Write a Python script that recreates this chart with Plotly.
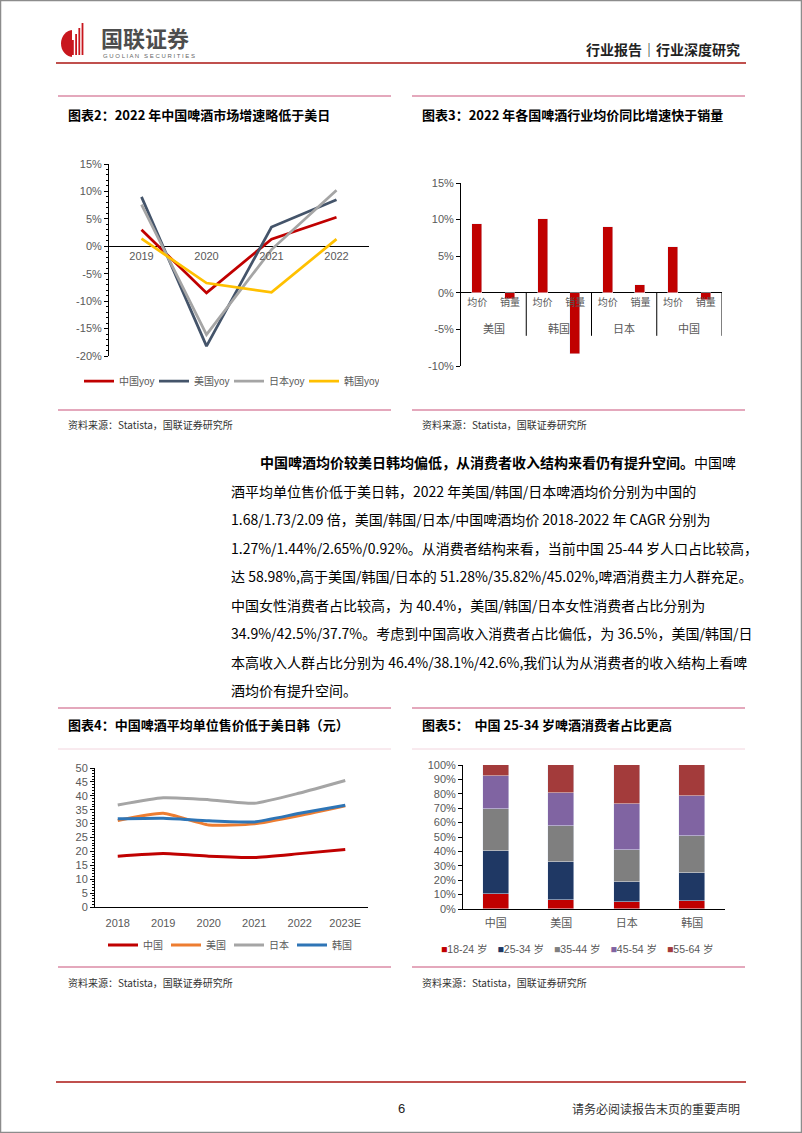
import plotly.graph_objects as go

W, H = 802, 1133

# ---------------- data ----------------
# Chart 2: beer market yoy growth
years2 = ['2019', '2020', '2021', '2022']
china_yoy = [3.0, -8.5, 1.3, 5.3]
usa_yoy = [9.0, -18.2, 3.5, 8.5]
japan_yoy = [7.6, -16.1, -0.6, 10.2]
korea_yoy = [1.4, -6.7, -8.4, 1.3]
yoy_names = ['中国yoy', '美国yoy', '日本yoy', '韩国yoy']
pct_ticks2 = [-20, -15, -10, -5, 0, 5, 10, 15]
pct_labels2 = ['-20%', '-15%', '-10%', '-5%', '0%', '5%', '10%', '15%']

# Chart 3: 2022 price vs volume yoy
countries3 = ['美国', '韩国', '日本', '中国']
metrics3 = ['均价', '销量']
price_yoy3 = [9.4, 10.1, 9.0, 6.3]
volume_yoy3 = [-0.8, -8.3, 1.0, -1.0]
pct_ticks3 = [-10, -5, 0, 5, 10, 15]
pct_labels3 = ['-10%', '-5%', '0%', '5%', '10%', '15%']

# Chart 4: average unit price (yuan)
years4 = ['2018', '2019', '2020', '2021', '2022', '2023E']
price_cn = [18.3, 19.2, 18.3, 17.8, 19.2, 20.7]
price_us = [31.1, 33.7, 29.5, 29.9, 32.9, 36.4]
price_jp = [36.7, 39.3, 38.6, 37.3, 41.0, 45.5]
price_kr = [31.7, 31.9, 31.0, 30.6, 33.7, 36.6]
names4 = ['中国', '美国', '日本', '韩国']

# Chart 5: consumer age structure (%)
countries5 = ['中国', '美国', '日本', '韩国']
age_groups = ['18-24 岁', '25-34 岁', '35-44 岁', '45-54 岁', '55-64 岁']
share_18_24 = [10.4, 6.3, 5.1, 5.8]
share_25_34 = [29.9, 26.0, 13.4, 19.0]
share_35_44 = [29.1, 25.3, 22.4, 26.0]
share_45_54 = [23.0, 22.7, 31.8, 28.0]
share_55_64 = [7.6, 19.7, 27.3, 21.2]
pct_ticks5 = [0, 10, 20, 30, 40, 50, 60, 70, 80, 90, 100]
pct_labels5 = [f'{v}%' for v in pct_ticks5]

# ---------------- styles ----------------
CN = 'Noto Sans CJK SC'
NUM = 'Arial, Liberation Sans, Noto Sans CJK SC'
GREY = '#595959'
yoy_colors = ['#C00000', '#44546A', '#A5A5A5', '#FFC000']
colors4 = ['#C00000', '#ED7D31', '#A5A5A5', '#2E75B6']
colors5 = ['#C00000', '#1F3864', '#7F7F7F', '#8064A2', '#A33B3B']
PINK = '#C9537A'
RED_LINE = '#C0504D'


def xp(p):
    return p / W


def yp(p):
    return 1 - p / H


def zero_pos(dom, rng):
    return dom[0] + (0 - rng[0]) / (rng[1] - rng[0]) * (dom[1] - dom[0])


fig = go.Figure()

# Chart 2 traces
for vals, name, col in zip([china_yoy, usa_yoy, japan_yoy, korea_yoy], yoy_names, yoy_colors):
    fig.add_trace(go.Scatter(x=years2, y=vals, name=name, mode='lines',
                             line=dict(color=col, width=2.75),
                             xaxis='x', yaxis='y', legend='legend'))

# Chart 3 traces
x_price = [2 * i for i in range(len(countries3))]
x_vol = [2 * i + 1 for i in range(len(countries3))]
fig.add_trace(go.Bar(x=x_price, y=price_yoy3, width=0.31, marker_color='#C00000',
                     xaxis='x2', yaxis='y2', showlegend=False, name='均价'))
fig.add_trace(go.Bar(x=x_vol, y=volume_yoy3, width=0.31, marker_color='#C00000',
                     xaxis='x2', yaxis='y2', showlegend=False, name='销量'))

# Chart 4 traces
for vals, name, col in zip([price_cn, price_us, price_jp, price_kr], names4, colors4):
    fig.add_trace(go.Scatter(x=years4, y=vals, name=name, mode='lines',
                             line=dict(color=col, width=3, shape='spline', smoothing=0.5),
                             xaxis='x3', yaxis='y3', legend='legend2'))

# Chart 5 traces (bars) + compact legend entries with a coloured square in the label
n_age = len(age_groups)
for k, (vals, name, col) in enumerate(zip([share_18_24, share_25_34, share_35_44, share_45_54,
                                           share_55_64], age_groups, colors5)):
    fig.add_trace(go.Bar(x=countries5, y=vals, name=name, marker_color=col, width=0.39,
                         xaxis='x4', yaxis='y4', showlegend=False, legendgroup=name))
    fig.add_trace(go.Scatter(x=[None], y=[None], mode='lines', line=dict(width=0, color=col),
                             name=f'<span style="color:{col}">■</span>{name}',
                             xaxis='x4', yaxis='y4', legend='legend3', legendgroup=name,
                             legendwidth=(50 if k == n_age - 1 else 26.5),
                             hoverinfo='skip'))

# ---------------- axes ----------------
tickfont = dict(family=NUM, size=11, color=GREY)

y2_dom, y2_rng = [yp(356), yp(164)], [-20, 15]
y3_dom, y3_rng = [yp(366), yp(183)], [-10, 15]
y4_dom, y4_rng = [yp(907), yp(768)], [0, 50]
y5_dom, y5_rng = [yp(909), yp(765)], [0, 100]

layout = dict(
    width=W, height=H, margin=dict(l=0, r=0, t=0, b=0, pad=0, autoexpand=False),
    paper_bgcolor='white', plot_bgcolor='rgba(0,0,0,0)',
    barmode='stack', bargap=0,
    font=dict(family=CN, color='#000'),
    xaxis=dict(domain=[xp(109), xp(369)], type='category', range=[-0.5, 3.5],
               anchor='free', position=zero_pos(y2_dom, y2_rng),
               showline=False, ticks='', showgrid=False, zeroline=False,
               tickfont=tickfont, ticklabelstandoff=2),
    yaxis=dict(domain=y2_dom, range=y2_rng, anchor='x', tickmode='array',
               tickvals=pct_ticks2, ticktext=pct_labels2,
               ticks='outside', ticklen=4, tickcolor='black',
               minor=dict(dtick=1, tick0=0, ticks='outside', ticklen=2, tickcolor='black'),
               showline=True, linecolor='black', linewidth=1, showgrid=False,
               zeroline=True, zerolinecolor='black', zerolinewidth=1, tickfont=tickfont),
    xaxis2=dict(domain=[xp(461), xp(722)], range=[-0.5, 7.5],
                anchor='free', position=zero_pos(y3_dom, y3_rng),
                tickmode='array', tickvals=x_price + x_vol,
                ticktext=[metrics3[0]] * len(x_price) + [metrics3[1]] * len(x_vol),
                showline=False, ticks='', showgrid=False, zeroline=False,
                tickfont=dict(family=CN, size=10, color=GREY), ticklabelstandoff=2),
    yaxis2=dict(domain=y3_dom, range=y3_rng, anchor='x2', tickmode='array',
                tickvals=pct_ticks3, ticktext=pct_labels3,
                ticks='outside', ticklen=4, tickcolor='black',
                showline=True, linecolor='black', linewidth=1, showgrid=False,
                zeroline=True, zerolinecolor='black', zerolinewidth=1, tickfont=tickfont),
    xaxis3=dict(domain=[xp(95), xp(368)], type='category', range=[-0.5, 5.5], anchor='y3',
                showline=True, linecolor='black', linewidth=1, ticks='', showgrid=False,
                zeroline=False, tickfont=tickfont, ticklabelstandoff=6),
    yaxis3=dict(domain=y4_dom, range=y4_rng, anchor='x3', dtick=5, tick0=0,
                ticks='outside', ticklen=4, tickcolor='black',
                minor=dict(dtick=1, tick0=0, ticks='outside', ticklen=2, tickcolor='black'),
                showline=True, linecolor='black', linewidth=1, showgrid=False,
                zeroline=False, tickfont=tickfont),
    xaxis4=dict(domain=[xp(463), xp(725)], type='category', range=[-0.5, 3.5], anchor='y4',
                showline=True, linecolor='black', linewidth=1, ticks='', showgrid=False,
                zeroline=False, tickfont=dict(family=CN, size=11, color=GREY),
                ticklabelstandoff=4),
    yaxis4=dict(domain=y5_dom, range=y5_rng, anchor='x4', tickmode='array',
                tickvals=pct_ticks5, ticktext=pct_labels5,
                ticks='outside', ticklen=4, tickcolor='black',
                showline=True, linecolor='black', linewidth=1, showgrid=False,
                zeroline=False, tickfont=tickfont),
    legend=dict(orientation='h', x=xp(79), y=yp(381), xanchor='left', yanchor='middle',
                font=dict(family=NUM, size=10, color=GREY), bgcolor='rgba(0,0,0,0)',
                itemwidth=30, tracegroupgap=0, traceorder='normal', entrywidth=30),
    legend2=dict(orientation='h', x=xp(103), y=yp(945), xanchor='left', yanchor='middle',
                 font=dict(family=CN, size=10, color=GREY), bgcolor='rgba(0,0,0,0)',
                 itemwidth=30, tracegroupgap=0, traceorder='normal', entrywidth=18),
    legend3=dict(orientation='h', x=xp(416), y=yp(949), xanchor='left', yanchor='middle',
                 font=dict(family=NUM, size=10.5, color=GREY), bgcolor='rgba(0,0,0,0)',
                 itemwidth=30, tracegroupgap=0, indentation=-15, traceorder='normal',
                 itemclick=False, itemdoubleclick=False),
)
fig.update_layout(**layout)

# ---------------- annotations ----------------
ann = []


def text(x, y, s, size=12, color='#000', anchor='left', family=CN, **kw):
    ann.append(dict(x=xp(x), y=yp(y), xref='paper', yref='paper', text=s, showarrow=False,
                    xanchor=anchor, yanchor='middle', font=dict(family=family, size=size, color=color), **kw))


# header
text(99, 37, '<b>国联证券</b>', size=22, color='#4D4D4D')
text(101, 56, 'G U O L I A N   S E C U R I T I E S', size=6, color='#666', family=NUM)
text(742, 49, '<b>行业报告｜行业深度研究</b>', size=14, color='#222', anchor='right')

# chart titles
text(66, 114, '<b>图表2：2022 年中国啤酒市场增速略低于美日</b>', size=13)
text(420, 114, '<b>图表3：2022 年各国啤酒行业均价同比增速快于销量</b>', size=13)
text(66, 724, '<b>图表4：中国啤酒平均单位售价低于美日韩（元）</b>', size=13)
text(420, 724, '<b>图表5：  中国 25-34 岁啤酒消费者占比更高</b>', size=13)

# sources
for sx, sy in [(66, 424), (420, 424), (66, 982), (420, 982)]:
    text(sx, sy, '资料来源：Statista，国联证券研究所', size=10, color='#333')

# paragraph
para = [
    (258, '<b>中国啤酒均价较美日韩均偏低，从消费者收入结构来看仍有提升空间。</b>中国啤'),
    (229, '酒平均单位售价低于美日韩，2022 年美国/韩国/日本啤酒均价分别为中国的'),
    (229, '1.68/1.73/2.09 倍，美国/韩国/日本/中国啤酒均价 2018-2022 年 CAGR 分别为'),
    (229, '1.27%/1.44%/2.65%/0.92%。从消费者结构来看，当前中国 25-44 岁人口占比较高，'),
    (229, '达 58.98%,高于美国/韩国/日本的 51.28%/35.82%/45.02%,啤酒消费主力人群充足。'),
    (229, '中国女性消费者占比较高，为 40.4%，美国/韩国/日本女性消费者占比分别为'),
    (229, '34.9%/42.5%/37.7%。考虑到中国高收入消费者占比偏低，为 36.5%，美国/韩国/日'),
    (229, '本高收入人群占比分别为 46.4%/38.1%/42.6%,我们认为从消费者的收入结构上看啤'),
    (229, '酒均价有提升空间。'),
]
for i, (lx, s) in enumerate(para):
    text(lx, 462 + i * 28.5, s, size=14)

# chart 3 country group labels
for i, c in enumerate(countries3):
    ann.append(dict(x=2 * i + 0.5, y=0, xref='x2', yref='y2', text=c, showarrow=False,
                    yanchor='middle', yshift=-35, font=dict(family=CN, size=11, color=GREY)))

# footer
text(401, 1108, '6', size=13, color='#222', anchor='center', family=NUM)
text(742, 1108, '请务必阅读报告末页的重要声明', size=12, color='#333', anchor='right')

fig.update_layout(annotations=ann)

# ---------------- shapes ----------------
shp = []


def hline(x0, x1, y, color, width):
    shp.append(dict(type='line', xref='paper', yref='paper', x0=xp(x0), x1=xp(x1),
                    y0=yp(y), y1=yp(y), line=dict(color=color, width=width)))


def rect(x0, y0, x1, y1, fill, kind='rect'):
    shp.append(dict(type=kind, xref='paper', yref='paper', x0=xp(x0), x1=xp(x1),
                    y0=yp(y1), y1=yp(y0), fillcolor=fill, line=dict(width=0)))


# page border
shp.append(dict(type='rect', xref='paper', yref='paper', x0=xp(0.5), x1=xp(801.5),
                y0=yp(1132.5), y1=yp(0.5), line=dict(color='#8C8C8C', width=1.5)))

# header / footer rules
hline(56, 746, 63, RED_LINE, 2)
hline(56, 746, 1082, RED_LINE, 2)

# section rules
for y in [96, 410, 708, 967]:
    hline(58, 391, y, PINK, 1.2)
    hline(412, 745, y, PINK, 1.2)
hline(58, 391, 749, '#F2D5DE', 1)
hline(412, 745, 749, '#F2D5DE', 1)

# logo
rect(61, 30, 85, 57, '#C8161D', kind='circle')
rect(72, 22, 87, 58, 'white')
for k, top in enumerate([40, 34, 28, 23]):
    rect(72 + k * 3.2, top, 73.8 + k * 3.2, 55, '#C8161D')

# chart 3 group dividers
for i in range(len(countries3)):
    shp.append(dict(type='line', xref='x2', yref='y2', x0=2 * i + 1.5, x1=2 * i + 1.5,
                    ysizemode='pixel', yanchor=0, y0=0, y1=-43,
                    line=dict(color='black', width=1)))

fig.update_layout(shapes=shp)

fig.write_html('out.html', config={'displayModeBar': False})
